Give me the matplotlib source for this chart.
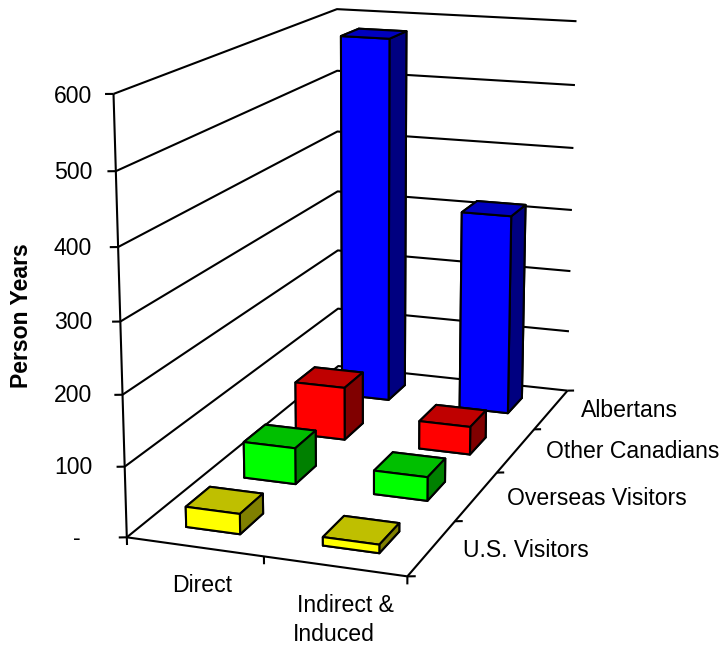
import numpy as np
import matplotlib
matplotlib.use("Agg")
import matplotlib.pyplot as plt

plt.rcParams["font.family"] = ["Liberation Sans", "DejaVu Sans"]

# Person years of employment by visitor origin and type of impact
impact_types = ["Direct", "Indirect &\nInduced"]
origins = ["U.S. Visitors", "Overseas Visitors", "Other Canadians", "Albertans"]
direct_values = [29, 54, 82, 580]
indirect_values = [12, 35, 43, 317]
z_ticks = [0, 100, 200, 300, 400, 500, 600]
z_tick_labels = ["-", "100", "200", "300", "400", "500", "600"]
front_colors = ["#FFFF00", "#00FF00", "#FF0000", "#0000FF"]
top_colors = ["#BFBF00", "#00BF00", "#BF0000", "#0000BF"]
side_colors = ["#808000", "#008000", "#800000", "#000080"]

W, H = 720, 646
BAR = 0.4
INSET = (1 - BAR) / 2
FS = 16.6

fig = plt.figure(figsize=(W / 100, H / 100), dpi=100)
ax = fig.add_axes([-0.0092, 0.0169, 1.0136, 1.1297], projection="3d",
                  computed_zorder=False)
ax.set_proj_type("persp", focal_length=0.5508)
ax.view_init(elev=14.6155, azim=-70.3857)
ax.set_box_aspect((1, 2.0511, 1.5176))
n_cat, n_ser = len(impact_types), len(origins)
ax.set_xlim(0, n_cat)
ax.set_ylim(0, n_ser)
ax.set_zlim(0, 600)
ax.set_axis_off()

line = dict(color="black", lw=1.5, zorder=1, solid_capstyle="butt")

# Gridlines along the side and back walls
for z in z_ticks:
    ax.plot([0, 0, n_cat], [0, n_ser, n_ser], [z, z, z], **line)

# Floor outline and the vertical axis
ax.plot([0, n_cat, n_cat], [0, 0, n_ser], [0, 0, 0], **line)
ax.plot([0, 0], [0, 0], [0, 600], **line)

# Tick marks
for z in z_ticks:
    ax.plot([0, -0.05], [0, -0.02], [z, z], **line)
for c in range(n_cat + 1):
    ax.plot([c, c], [0, 0], [0, -11], **line)
for s in range(n_ser + 1):
    ax.plot([n_cat, n_cat + 0.05], [s, s + 0.02], [0, 0], **line)

# Bars, painted from the back row forward
rows = list(zip(direct_values, indirect_values))
for s in reversed(range(n_ser)):
    for c in range(n_cat):
        face = [front_colors[s]] * 6
        face[1] = top_colors[s]
        face[5] = side_colors[s]
        bar = ax.bar3d(c + INSET, s + INSET, 0, BAR, BAR, rows[s][c],
                       color=face, edgecolor="black", linewidth=1.5, shade=False)
        bar.set_zorder(2 + (n_ser - s) * 2 + c)


def label(px, py, text, **kw):
    fig.text(px / W, 1 - (py + 1.5) / H, text, fontsize=FS, va="center", **kw)


# Value axis labels
for y_px, t in zip([537, 466, 394, 321, 247, 171, 95], z_tick_labels):
    label(92 if t != "-" else 81, y_px, t, ha="right")
label(22, 314, "Person Years", ha="center", rotation=90, fontweight="bold")

# Category labels
label(202, 584, impact_types[0], ha="center")
first, second = impact_types[1].split("\n")
label(345, 604, first, ha="center")
label(334, 633, second, ha="center")

# Series labels
for (x_px, y_px), t in zip([(463, 549), (507, 497), (546, 450), (581, 409)], origins):
    label(x_px, y_px, t, ha="left")

fig.savefig("out.png", dpi=100)
